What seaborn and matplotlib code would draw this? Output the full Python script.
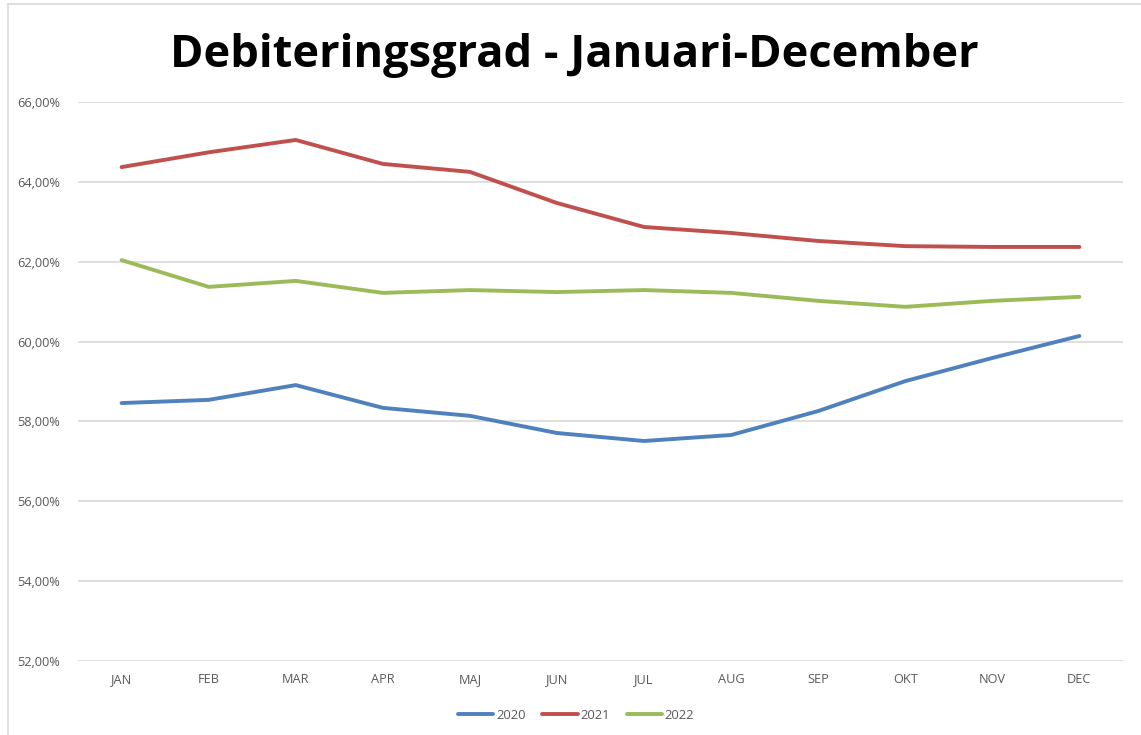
import numpy as np
import pandas as pd
import seaborn as sns
import matplotlib.pyplot as plt
from matplotlib.lines import Line2D
from matplotlib.ticker import FuncFormatter

months = ["JAN", "FEB", "MAR", "APR", "MAJ", "JUN", "JUL", "AUG", "SEP", "OKT", "NOV", "DEC"]
years = ["2020", "2021", "2022"]
grad_2020 = [58.46, 58.54, 58.91, 58.34, 58.14, 57.71, 57.51, 57.66, 58.26, 59.01, 59.59, 60.14]
grad_2021 = [64.37, 64.74, 65.05, 64.45, 64.25, 63.47, 62.87, 62.72, 62.52, 62.39, 62.37, 62.37]
grad_2022 = [62.04, 61.37, 61.52, 61.22, 61.29, 61.24, 61.29, 61.22, 61.02, 60.87, 61.02, 61.12]
colors = ["#4F81BD", "#C0504D", "#9BBB59"]

df = pd.DataFrame({"month": months * 3,
                   "year": np.repeat(years, len(months)),
                   "grad": grad_2020 + grad_2021 + grad_2022})

sns.set_style("white")
plt.rcParams["font.family"] = ["Open Sans", "DejaVu Sans"]

fig = plt.figure(figsize=(11.41, 7.35), dpi=100)
ax = fig.add_axes([0.0684, 0.1007, 0.9158, 0.7605])

sns.lineplot(data=df, x="month", y="grad", hue="year", palette=colors,
             linewidth=2.8, sort=False, ax=ax, legend=False)

ax.set_xlim(-0.5, 11.5)
ax.set_ylim(52, 66)
ax.set_yticks(np.arange(52, 67, 2))
ax.yaxis.set_major_formatter(FuncFormatter(lambda v, p: f"{v:.2f}%".replace(".", ",")))
ax.grid(axis="y", color="#D9D9D9", linewidth=1.2)
ax.set_axisbelow(True)
for s in ax.spines.values():
    s.set_visible(False)
ax.tick_params(axis="both", length=0, labelsize=9.2, labelcolor="#595959")
ax.tick_params(axis="y", pad=13)
ax.tick_params(axis="x", pad=9)
ax.set_xlabel("")
ax.set_ylabel("")

fig.text(0.503, 0.925, "Debiteringsgrad - Januari-December", ha="center", va="center",
         fontsize=32.6, fontweight="bold", color="black")

handles = [Line2D([], [], color=c, linewidth=2.8) for c in colors]
fig.legend(handles, years, loc="center", bbox_to_anchor=(0.505, 0.027), ncol=3,
           frameon=False, fontsize=9.4, labelcolor="#595959", handlelength=2.7,
           handletextpad=0.2, columnspacing=1.3)

# frame of the chart area
fig.add_artist(Line2D([8 / 1141, 8 / 1141], [0, 1 - 4 / 735], color="#D9D9D9", linewidth=1.2))
fig.add_artist(Line2D([8 / 1141, 1], [1 - 4 / 735, 1 - 4 / 735], color="#D9D9D9", linewidth=1.2))

fig.savefig("out.png", dpi=100)
